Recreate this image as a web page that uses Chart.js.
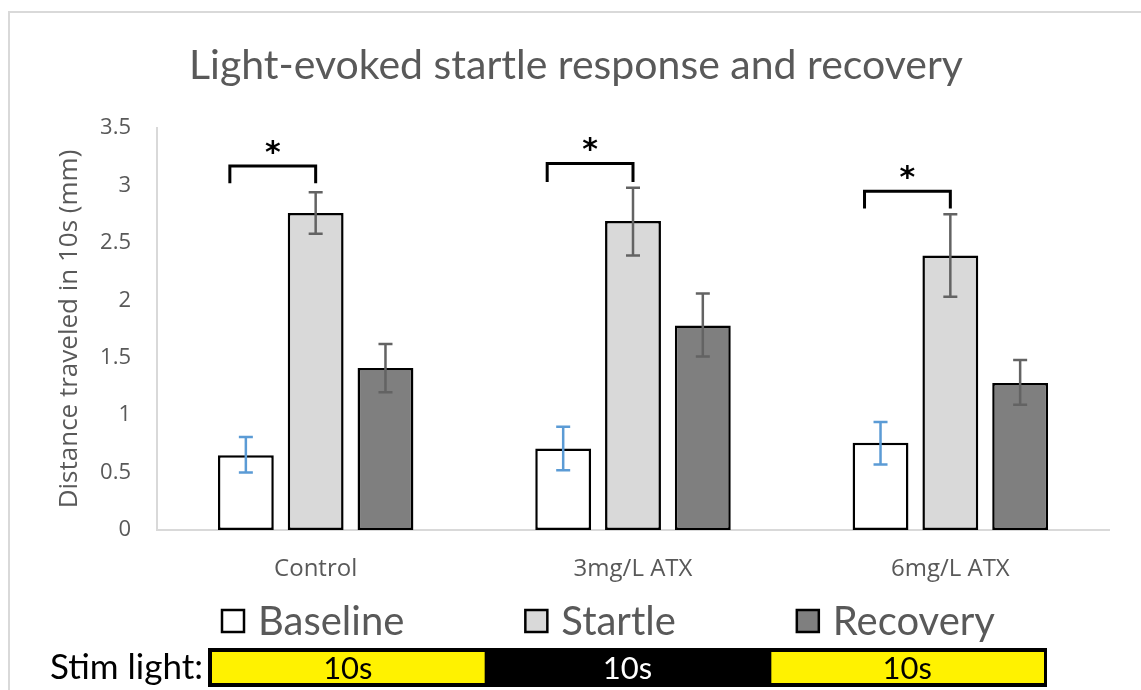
<!DOCTYPE html>
<html>
<head>
<meta charset="utf-8">
<script src="https://cdn.jsdelivr.net/npm/chart.js@4"></script>
<style>
  html, body { margin: 0; padding: 0; background: #fff; }
</style>
</head>
<body>
<canvas id="startleChart" width="1141" height="690"></canvas>
<script>
// values
const groups = ["Control", "3mg/L ATX", "6mg/L ATX"];
const baseline = [0.65, 0.71, 0.76];
const startle = [2.76, 2.69, 2.39];
const recovery = [1.41, 1.78, 1.28];

// error bar ends
const baselineLow = [0.50, 0.52, 0.57];
const baselineHigh = [0.81, 0.90, 0.94];
const startleLow = [2.58, 2.39, 2.03];
const startleHigh = [2.94, 2.98, 2.75];
const recoveryLow = [1.20, 1.51, 1.09];
const recoveryHigh = [1.62, 2.06, 1.48];

// significance brackets (baseline vs startle)
const bracketTop = [3.17, 3.19, 2.95];
const bracketFoot = [3.02, 3.03, 2.80];

const yTicks = ["0", "0.5", "1", "1.5", "2", "2.5", "3", "3.5"];
const stimLabels = ["10s", "10s", "10s"];
const stimOn = [true, false, true];

const errLow = [baselineLow, startleLow, recoveryLow];
const errHigh = [baselineHigh, startleHigh, recoveryHigh];
const errColors = ["#5b9bd5", "#636363", "#636363"];

const chartTitle = "Light-evoked startle response and recovery";
const textGray = "#595959";

// light grey frame round the figure, and the title
const framePlugin = {
    id: "frame",
    beforeDraw(chart) {
        const c = chart.ctx;
        c.save();
        c.strokeStyle = "#d9d9d9";
        c.lineWidth = 2;
        c.beginPath();
        c.moveTo(9, 690);
        c.lineTo(9, 12);
        c.lineTo(1141, 12);
        c.stroke();
        c.fillStyle = textGray;
        c.font = "41px Lato";
        c.textAlign = "center";
        c.textBaseline = "middle";
        c.fillText(chartTitle, 576, 66);
        c.restore();
    }
};

const errorBarPlugin = {
    id: "errorBars",
    afterDatasetsDraw(chart) {
        const c = chart.ctx;
        const y = chart.scales.y;
        c.save();
        c.lineWidth = 2.5;
        chart.data.datasets.forEach((ds, i) => {
            const meta = chart.getDatasetMeta(i);
            c.strokeStyle = errColors[i];
            meta.data.forEach((bar, j) => {
                const lo = y.getPixelForValue(errLow[i][j]);
                const hi = y.getPixelForValue(errHigh[i][j]);
                c.beginPath();
                c.moveTo(bar.x, lo); c.lineTo(bar.x, hi);
                c.moveTo(bar.x - 7, lo); c.lineTo(bar.x + 7, lo);
                c.moveTo(bar.x - 7, hi); c.lineTo(bar.x + 7, hi);
                c.stroke();
            });
        });
        c.restore();
    }
};

const bracketPlugin = {
    id: "brackets",
    afterDatasetsDraw(chart) {
        const c = chart.ctx;
        const y = chart.scales.y;
        const b = chart.getDatasetMeta(0).data;
        const s = chart.getDatasetMeta(1).data;
        c.save();
        c.strokeStyle = "#000";
        c.lineWidth = 3;
        c.fillStyle = "#000";
        c.font = "bold 30px 'DejaVu Sans'";
        c.textAlign = "center";
        c.textBaseline = "middle";
        b.forEach((bar, j) => {
            const x1 = bar.x - 16;
            const x2 = s[j].x;
            const top = y.getPixelForValue(bracketTop[j]);
            const foot = y.getPixelForValue(bracketFoot[j]);
            c.beginPath();
            c.moveTo(x1, foot); c.lineTo(x1, top); c.lineTo(x2, top); c.lineTo(x2, foot);
            c.stroke();
            c.fillText("*", (x1 + x2) / 2, top - 12);
        });
        c.restore();
    }
};

// legend row and the stim light strip under the chart
const bottomPlugin = {
    id: "bottomRow",
    afterDraw(chart) {
        const c = chart.ctx;
        c.save();
        // legend
        c.font = "40px Lato";
        c.textBaseline = "middle";
        c.textAlign = "left";
        let x = 222;
        const ly = 621;
        chart.data.datasets.forEach(ds => {
            c.fillStyle = ds.backgroundColor;
            c.fillRect(x, ly - 11, 22, 22);
            c.strokeStyle = "#000";
            c.lineWidth = 2.5;
            c.strokeRect(x, ly - 11, 22, 22);
            c.fillStyle = textGray;
            c.fillText(ds.label, x + 36, ly + 1);
            x += 36 + c.measureText(ds.label).width + 121;
        });

        // stim light
        c.fillStyle = "#000";
        c.font = "35px Lato";
        c.textAlign = "right";
        c.fillText("Stim light:", 203, 668);
        const left = 208, right = 1047, top = 648, bottom = 687;
        c.fillRect(left, top, right - left, bottom - top);
        const w = (right - left) / stimLabels.length;
        c.font = "31px Lato";
        c.textAlign = "center";
        stimLabels.forEach((lab, k) => {
            const sx = left + k * w;
            if (stimOn[k]) {
                c.fillStyle = "#fff200";
                c.fillRect(sx + 4, top + 4, w - 7, bottom - top - 8);
                c.fillStyle = "#000";
            } else {
                c.fillStyle = "#fff";
            }
            c.fillText(lab, sx + w / 2, (top + bottom) / 2 + 1);
        });
        c.restore();
    }
};

const ctx = document.getElementById("startleChart").getContext("2d");

const startleChart = new Chart(ctx, {
    type: "bar",
    data: {
        labels: groups,
        datasets: [
            { label: "Baseline", data: baseline, backgroundColor: "#ffffff" },
            { label: "Startle", data: startle, backgroundColor: "#d9d9d9" },
            { label: "Recovery", data: recovery, backgroundColor: "#7f7f7f" }
        ]
    },
    options: {
        responsive: false,
        animation: false,
        layout: { padding: { left: 9, right: 32, top: 128, bottom: 100 } },
        datasets: {
            bar: {
                categoryPercentage: 0.66,
                barPercentage: 0.8,
                borderColor: "#000",
                borderWidth: 2.5,
                borderSkipped: false
            }
        },
        scales: {
            x: {
                grid: { display: false },
                border: { color: "#d9d9d9", width: 2 },
                ticks: { color: textGray, font: { family: "Open Sans", size: 24 }, padding: 17 },
                afterFit(scale) { scale.height = 60; }
            },
            y: {
                min: 0,
                max: 3.5,
                grid: { display: false, drawTicks: false },
                border: { color: "#d9d9d9", width: 2 },
                ticks: {
                    stepSize: 0.5,
                    color: textGray,
                    font: { family: "Open Sans", size: 22 },
                    padding: 26,
                    callback: (v, i) => yTicks[i]
                },
                title: {
                    display: true,
                    text: "Distance traveled in 10s (mm)",
                    color: textGray,
                    font: { family: "Open Sans", size: 26 },
                    padding: { top: 45, bottom: 0 }
                },
                afterFit(scale) { scale.width = 148; }
            }
        },
        plugins: {
            legend: { display: false },
            tooltip: { enabled: false },
            title: { display: false }
        }
    },
    plugins: [framePlugin, errorBarPlugin, bracketPlugin, bottomPlugin]
});
</script>
</body>
</html>
